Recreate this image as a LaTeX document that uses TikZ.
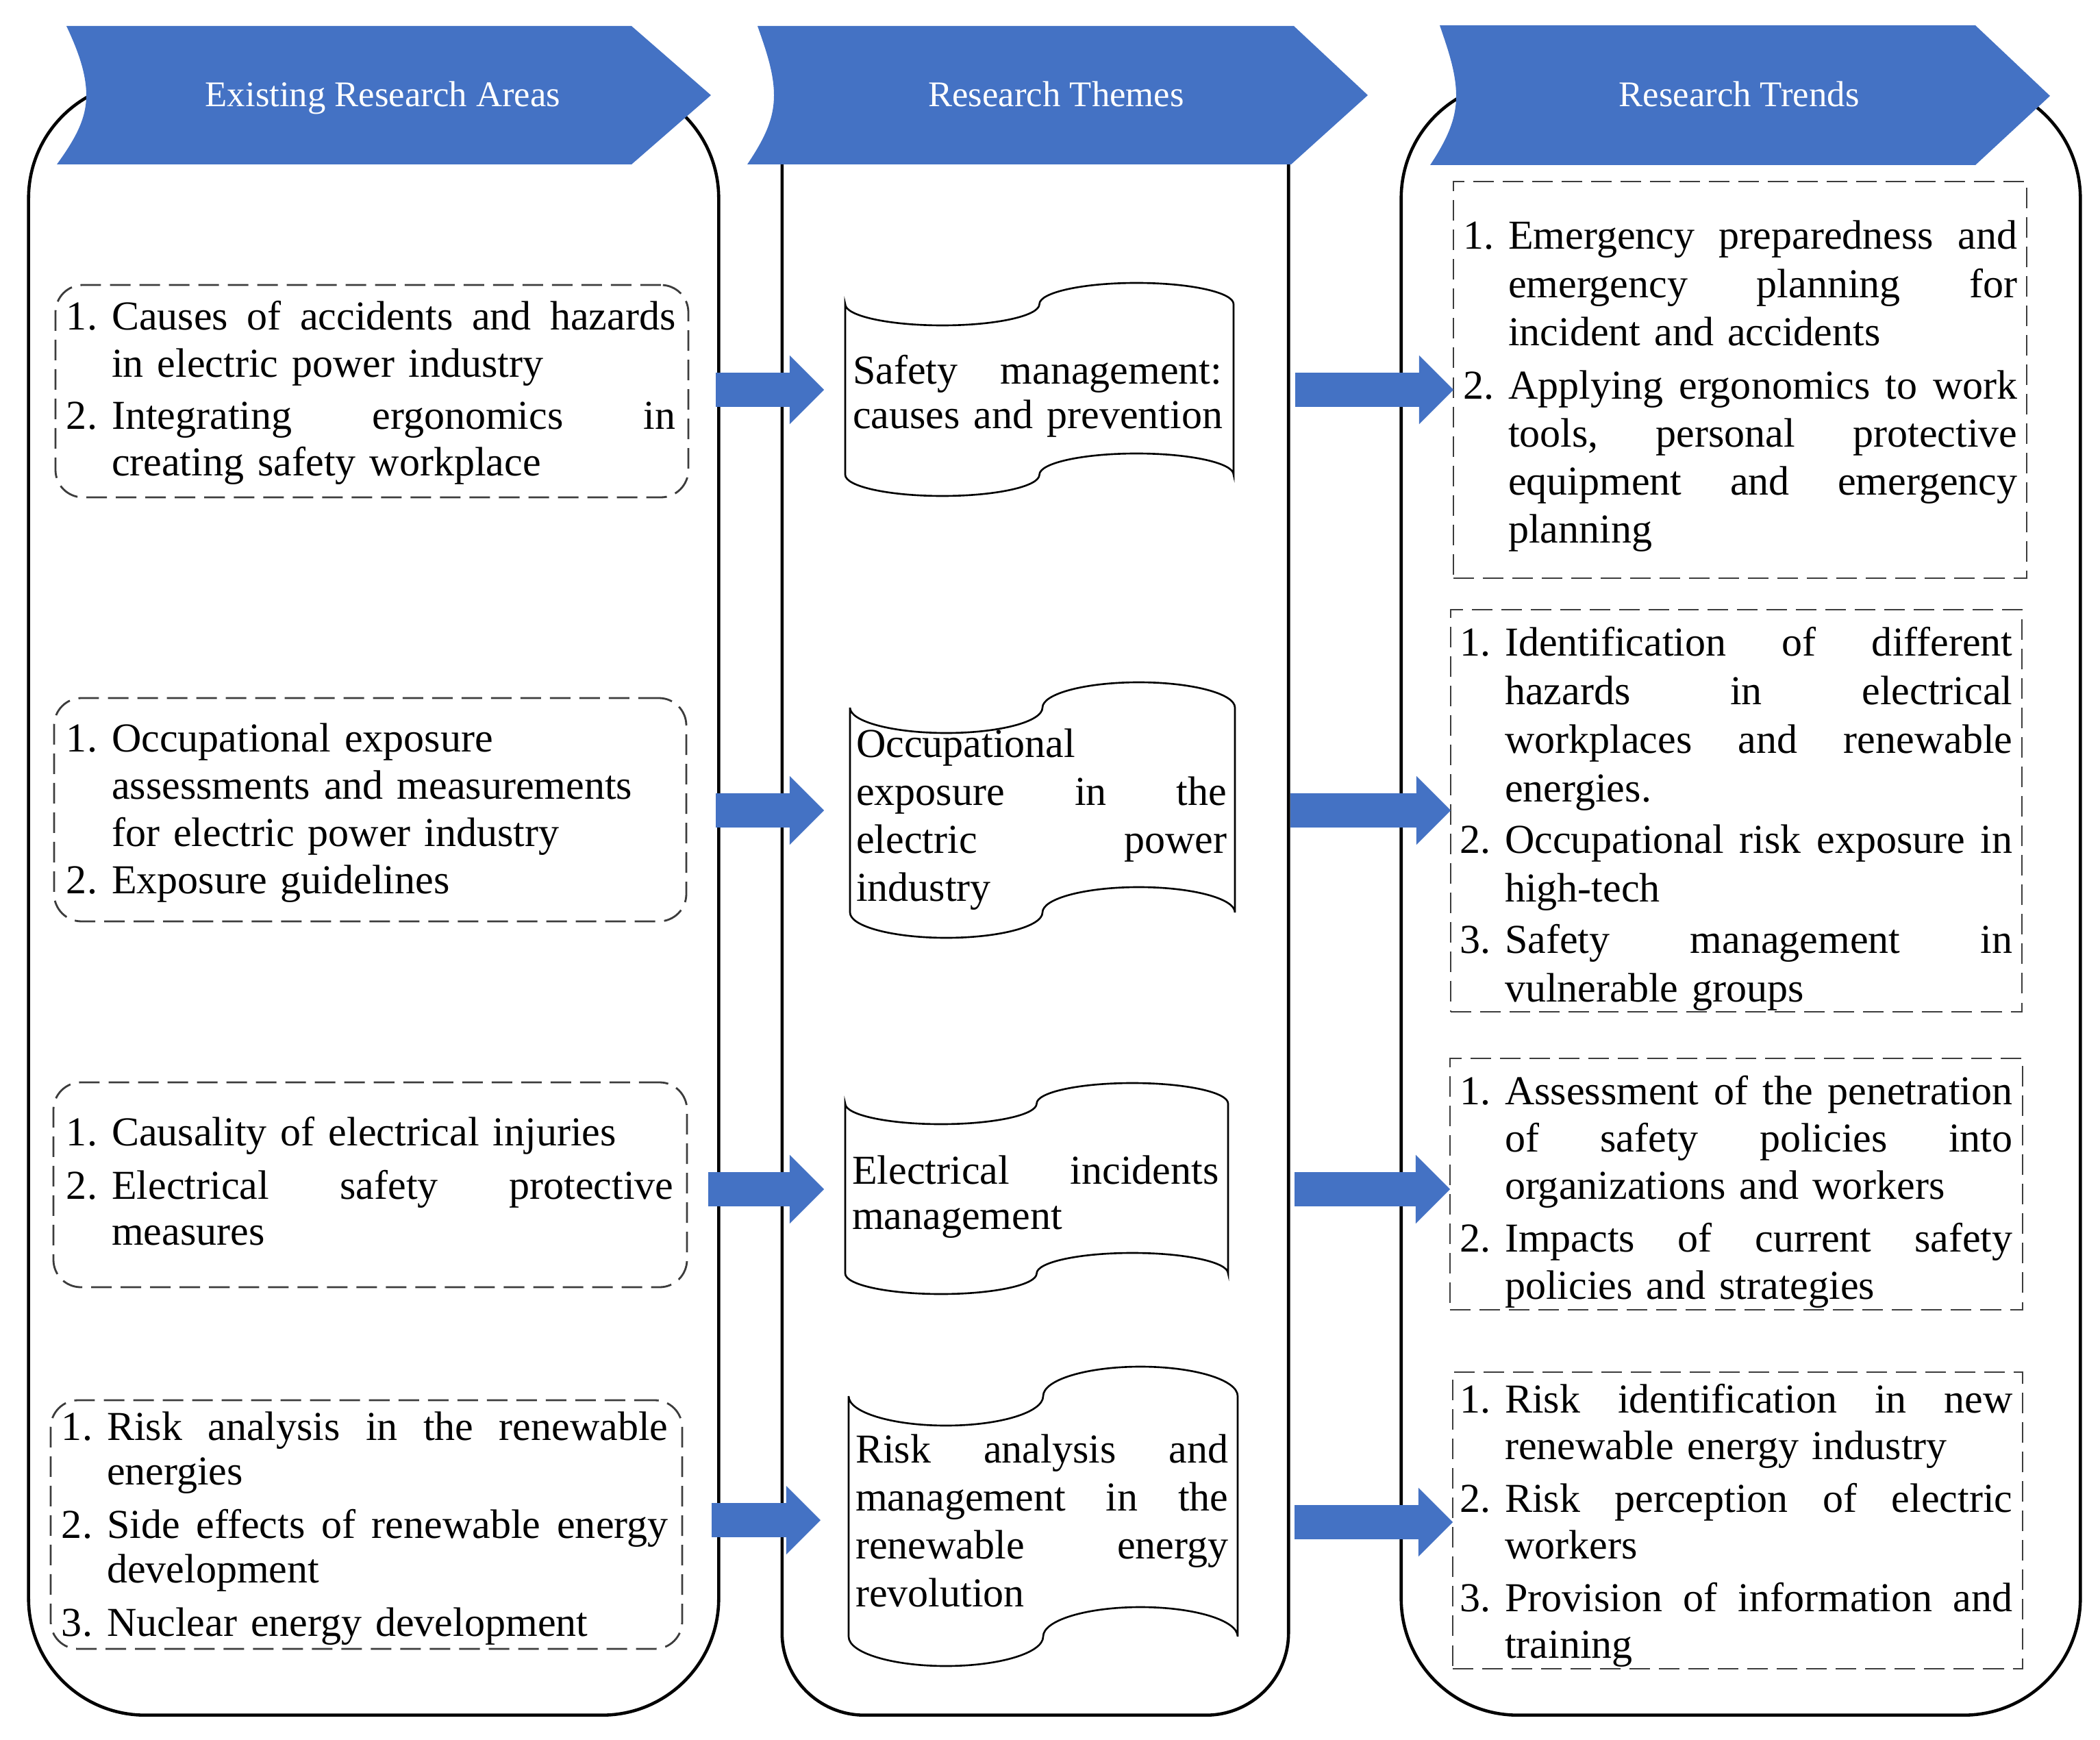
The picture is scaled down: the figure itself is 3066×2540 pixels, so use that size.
\documentclass[tikz,border=0pt]{standalone}
\usepackage{fontspec}
\setmainfont{Liberation Serif}
\usetikzlibrary{arrows.meta,fit}
\definecolor{ppblue}{RGB}{68,114,196}
\definecolor{dashgray}{RGB}{60,60,60}
\newlength\numw
\setlength\numw{0.66cm}
\newlength\jlw
% justified line of fixed width \jlw (words separated by \hfill)
\newcommand\jstl[1]{\makebox[\jlw][l]{#1}}
\newcommand\itl[2]{\makebox[\numw][l]{#1}\mbox{#2}}
\newcommand\ctl[1]{\hspace*{\numw}\mbox{#1}}
\newcommand\bodyfont[1]{\fontsize{17.07pt}{#1}\selectfont}
\newcommand\tapeshape[5]{%
 \pgfmathsetmacro\tpL{#1}\pgfmathsetmacro\tpR{#2}%
 \pgfmathsetmacro\tpT{#3}\pgfmathsetmacro\tpB{#4}\pgfmathsetmacro\tpa{#5}%
 \pgfmathsetmacro\tpq{(\tpR-\tpL)/4}%
 \pgfmathsetmacro\tpk{0.5523*\tpq}%
 \pgfmathsetmacro\tpak{0.5523*\tpa}%
 \draw[tapeline]
  (\tpL,\tpT) .. controls (\tpL,\tpT+\tpak) and (\tpL+\tpq-\tpk,\tpT+\tpa) .. (\tpL+\tpq,\tpT+\tpa)
  .. controls (\tpL+\tpq+\tpk,\tpT+\tpa) and (\tpL+2*\tpq,\tpT+\tpak) .. (\tpL+2*\tpq,\tpT)
  .. controls (\tpL+2*\tpq,\tpT-\tpak) and (\tpL+3*\tpq-\tpk,\tpT-\tpa) .. (\tpL+3*\tpq,\tpT-\tpa)
  .. controls (\tpL+3*\tpq+\tpk,\tpT-\tpa) and (\tpR,\tpT-\tpak) .. (\tpR,\tpT)
  -- (\tpR,\tpB)
  .. controls (\tpR,\tpB-\tpak) and (\tpL+3*\tpq+\tpk,\tpB-\tpa) .. (\tpL+3*\tpq,\tpB-\tpa)
  .. controls (\tpL+3*\tpq-\tpk,\tpB-\tpa) and (\tpL+2*\tpq,\tpB-\tpak) .. (\tpL+2*\tpq,\tpB)
  .. controls (\tpL+2*\tpq,\tpB+\tpak) and (\tpL+\tpq+\tpk,\tpB+\tpa) .. (\tpL+\tpq,\tpB+\tpa)
  .. controls (\tpL+\tpq-\tpk,\tpB+\tpa) and (\tpL,\tpB+\tpak) .. (\tpL,\tpB)
  -- cycle;}
\tikzset{
 frame/.style={draw=black, line width=1.3pt, inner sep=0pt, outer sep=0pt},
 dbox/.style={draw=dashgray, line width=0.8pt, dash pattern=on 0.3cm off 0.13cm, inner sep=0pt, outer sep=0pt},
 dboxr/.style={dbox, rounded corners=0.4cm},
 tapeline/.style={draw=black, line width=0.75pt, fill=white},
 txt/.style={anchor=base west, inner sep=0pt, outer sep=0pt, text width=#1},
 bannertext/.style={anchor=base, inner sep=0pt, text=white, font=\fontsize{15pt}{18pt}\selectfont},
 banner/.style={fill=ppblue},
 barrow/.style={draw=ppblue, line width=0.5cm, -{Triangle[length=0.5cm, width=1cm, line width=0pt]}}
}
\begin{document}
\begin{tikzpicture}[x=0.01cm, y=-0.01cm]
\useasboundingbox (0,0) rectangle (3066,2540);
\fill[white] (0,0) rectangle (3066,2540);

% outer frames
\node[frame, rounded corners=1.7cm, minimum width=10.07cm, minimum height=23.83cm] (f1) at (545.5,1311.5) {};
\node[frame, rounded corners=1.2cm, minimum width=7.39cm, minimum height=23.93cm] (f2) at (1511.5,1306.5) {};
\node[frame, rounded corners=1.7cm, minimum width=9.91cm, minimum height=23.83cm] (f3) at (2541.5,1311.5) {};

% banners
\fill[banner] (97,38) -- (922,38) -- (1038,139) -- (922,240) -- (83,240) .. controls (112,200) and (126,172) .. (126,139) .. controls (126,106) and (113,72) .. (97,38) -- cycle;
\fill[banner] (1106,38) -- (1889,38) -- (1997,139) -- (1885,240) -- (1091,240) .. controls (1118,200) and (1130,172) .. (1130,139) .. controls (1130,106) and (1118,72) .. (1106,38) -- cycle;
\fill[banner] (2102,37) -- (2884,37) -- (2993,140) -- (2884,241) -- (2088,241) .. controls (2115,200) and (2126,172) .. (2126,140) .. controls (2126,106) and (2114,72) .. (2102,37) -- cycle;
\node[bannertext] (hd1) at (559,156) {Existing Research Areas};
\node[bannertext] (hd2) at (1542,156) {Research Themes};
\node[bannertext] (hd3) at (2539,156) {Research Trends};

% left dashed boxes
\node[dboxr, fit={(81,416) (1005,726)}] (l1) {};
\node[dboxr, fit={(79,1019) (1002,1345)}] (l2) {};
\node[dboxr, fit={(78,1580) (1003,1879)}] (l3) {};
\node[dboxr, fit={(74,2044) (996,2407)}] (l4) {};

\node[txt=8.89cm, font=\bodyfont{0.68cm}] (l1t) at (97,482) {\setlength\jlw{8.23cm}%
\itl{1.}{\jstl{Causes\hfill of\hfill accidents\hfill and\hfill hazards}}\\
\ctl{in electric power industry}\\[0.08cm]
\itl{2.}{\jstl{Integrating\hfill ergonomics\hfill in}}\\
\ctl{creating safety workplace}};

\node[txt=8.89cm, font=\bodyfont{0.69cm}] (l2t) at (97,1097) {%
\itl{1.}{Occupational exposure}\\
\ctl{assessments and measurements}\\
\ctl{for electric power industry}\\
\itl{2.}{Exposure guidelines}};

\node[txt=8.86cm, font=\bodyfont{0.67cm}] (l3t) at (97,1672) {\setlength\jlw{8.20cm}%
\itl{1.}{Causality of electrical injuries}\\[0.11cm]
\itl{2.}{\jstl{Electrical\hfill safety\hfill protective}}\\
\ctl{measures}};

\node[txt=8.85cm, font=\bodyfont{0.65cm}] (l4t) at (90,2102) {\setlength\jlw{8.19cm}%
\itl{1.}{\jstl{Risk\hfill analysis\hfill in\hfill the\hfill renewable}}\\
\ctl{energies}\\[0.13cm]
\itl{2.}{\jstl{Side\hfill effects\hfill of\hfill renewable\hfill energy}}\\
\ctl{development}\\[0.13cm]
\itl{3.}{Nuclear energy development}};

% themes
\tapeshape{1234}{1801}{444}{693}{31}
\tapeshape{1241}{1803}{1033}{1332}{37}
\tapeshape{1234}{1793}{1611}{1859}{30}
\tapeshape{1239}{1807}{2038}{2389}{43}

\node[txt=5.39cm, font=\bodyfont{0.64cm}] (th1) at (1245,561) {\setlength\jlw{5.39cm}%
\jstl{Safety\hfill management:}\\
\mbox{causes and prevention}};
\node[txt=5.41cm, font=\bodyfont{0.70cm}] (th2) at (1250,1105) {\setlength\jlw{5.41cm}%
\mbox{Occupational}\\
\jstl{exposure\hfill in\hfill the}\\
\jstl{electric\hfill power}\\
\mbox{industry}};
\node[txt=5.35cm, font=\bodyfont{0.66cm}] (th3) at (1244,1728) {\setlength\jlw{5.35cm}%
\jstl{Electrical\hfill incidents}\\
\mbox{management}};
\node[txt=5.44cm, font=\bodyfont{0.70cm}] (th4) at (1249,2135) {\setlength\jlw{5.44cm}%
\jstl{Risk\hfill analysis\hfill and}\\
\jstl{management\hfill in\hfill the}\\
\jstl{renewable\hfill energy}\\
\mbox{revolution}};

% right dashed boxes
\node[dbox, fit={(2122,265) (2959,844)}] (t1) {};
\node[dbox, fit={(2118,890) (2952,1477)}] (t2) {};
\node[dbox, fit={(2117,1545) (2953,1912)}] (t3) {};
\node[dbox, fit={(2121,2003) (2953,2436)}] (t4) {};

\node[txt=8.09cm, font=\bodyfont{0.70cm}] (t1t) at (2136,364) {\setlength\jlw{7.43cm}%
\itl{1.}{\jstl{Emergency\hfill preparedness\hfill and}}\\
\ctl{\jstl{emergency\hfill planning\hfill for}}\\
\ctl{incident and accidents}\\[0.08cm]
\itl{2.}{\jstl{Applying\hfill ergonomics\hfill to\hfill work}}\\
\ctl{\jstl{tools,\hfill personal\hfill protective}}\\
\ctl{\jstl{equipment\hfill and\hfill emergency}}\\
\ctl{planning}};

\node[txt=8.07cm, font=\bodyfont{0.71cm}] (t2t) at (2131,957) {\setlength\jlw{7.41cm}%
\itl{1.}{\jstl{Identification\hfill of\hfill different}}\\
\ctl{\jstl{hazards\hfill in\hfill electrical}}\\
\ctl{\jstl{workplaces\hfill and\hfill renewable}}\\
\ctl{energies.}\\[0.04cm]
\itl{2.}{\jstl{Occupational\hfill risk\hfill exposure\hfill in}}\\
\ctl{high-tech}\\[0.04cm]
\itl{3.}{\jstl{Safety\hfill management\hfill in}}\\
\ctl{vulnerable groups}};

\node[txt=8.07cm, font=\bodyfont{0.69cm}] (t3t) at (2131,1612) {\setlength\jlw{7.41cm}%
\itl{1.}{\jstl{Assessment\hfill of\hfill the\hfill penetration}}\\
\ctl{\jstl{of\hfill safety\hfill policies\hfill into}}\\
\ctl{organizations and workers}\\[0.08cm]
\itl{2.}{\jstl{Impacts\hfill of\hfill current\hfill safety}}\\
\ctl{policies and strategies}};

\node[txt=8.07cm, font=\bodyfont{0.68cm}] (t4t) at (2131,2062) {\setlength\jlw{7.41cm}%
\itl{1.}{\jstl{Risk\hfill identification\hfill in\hfill new}}\\
\ctl{renewable energy industry}\\[0.09cm]
\itl{2.}{\jstl{Risk\hfill perception\hfill of\hfill electric}}\\
\ctl{workers}\\[0.09cm]
\itl{3.}{\jstl{Provision\hfill of\hfill information\hfill and}}\\
\ctl{training}};

% arrows
\coordinate (aL1) at (1045,569);  \coordinate (aL1e) at (1203,569);
\coordinate (aL2) at (1045,1183); \coordinate (aL2e) at (1203,1183);
\coordinate (aL3) at (1034,1736); \coordinate (aL3e) at (1203,1736);
\coordinate (aL4) at (1039,2219); \coordinate (aL4e) at (1198,2219);
\coordinate (aR1) at (1891,569);
\coordinate (aR2) at (1884,1183);
\coordinate (aR3) at (1890,1736);
\coordinate (aR4) at (1890,2222);
\draw[barrow] (aL1) -- (aL1e);
\draw[barrow] (aL2) -- (aL2e);
\draw[barrow] (aL3) -- (aL3e);
\draw[barrow] (aL4) -- (aL4e);
\draw[barrow] (aR1) -- (aR1 -| t1.west);
\draw[barrow] (aR2) -- (aR2 -| t2.west);
\draw[barrow] (aR3) -- (aR3 -| t3.west);
\draw[barrow] (aR4) -- (aR4 -| t4.west);
\end{tikzpicture}
\end{document}
